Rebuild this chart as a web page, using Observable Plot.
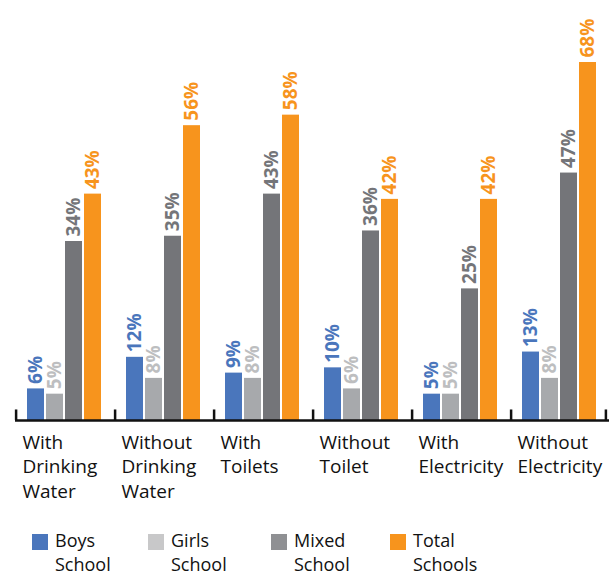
<!DOCTYPE html>
<html>
<head>
<meta charset="utf-8">
<script src="https://cdn.jsdelivr.net/npm/d3@7"></script>
<script src="https://cdn.jsdelivr.net/npm/@observablehq/plot@0.6"></script>
<style>
  body { margin: 0; background: #fff; font-family: "Open Sans", sans-serif; }
  #chart svg { display: block; }
  #legend { display: flex; padding-left: 32px; margin-top: 2px; }
  .item { display: flex; align-items: flex-start; font-size: 18px; line-height: 24px; color: #111; }
  .sw { width: 16px; height: 16px; margin-top: 6px; margin-right: 7px; flex: none; }
</style>
</head>
<body>
<div id="chart"></div>
<div id="legend"></div>
<script>
const groups = ["With Drinking Water", "Without Drinking Water", "With Toilets", "Without Toilet", "With Electricity", "Without Electricity"];
const groupLabels = ["With\nDrinking\nWater", "Without\nDrinking\nWater", "With\nToilets", "Without\nToilet", "With\nElectricity", "Without\nElectricity"];
const series = ["Boys School", "Girls School", "Mixed School", "Total Schools"];
const boys = [6, 12, 9, 10, 5, 13];
const girls = [5, 8, 8, 6, 5, 8];
const mixed = [34, 35, 43, 36, 25, 47];
const total = [43, 56, 58, 42, 42, 68];

const barColors = ["#4A76BC", "#A7A9AC", "#747579", "#F7941D"];
const labelColors = ["#4A76BC", "#BDBEC0", "#747579", "#F7941D"];
const legendColors = ["#4A76BC", "#C8C8C9", "#8F9093", "#F7941D"];
const legendWidths = [116, 123, 119, 120];

const valuesBySeries = [boys, girls, mixed, total];
const data = [];
groups.forEach((g, gi) => {
  series.forEach((s, si) => {
    data.push({group: g, series: s, value: valuesBySeries[si][gi]});
  });
});

const W = 615, H = 526, mL = 13, mR = 5;
const fw = (W - mL - mR) / groups.length;
const pInner = 0.1, pOuter = 0.55;
const step = fw / (series.length - pInner + 2 * pOuter);

const labelMarks = series.map((s, si) =>
  Plot.text(data.filter(d => d.series === s), {
    fx: "group", x: "series", y: "value",
    text: d => d.value + "%",
    rotate: -90, textAnchor: "start", lineAnchor: "middle",
    dy: -5, fill: labelColors[si],
    fontSize: 19, fontWeight: "bold"
  })
);

const chart = Plot.plot({
  width: W, height: H,
  marginLeft: mL, marginRight: mR, marginTop: 62, marginBottom: H - 420,
  style: {fontFamily: "'Open Sans', sans-serif", background: "#fff"},
  fx: {domain: groups, padding: 0, axis: null},
  x: {domain: series, paddingInner: pInner, paddingOuter: pOuter, axis: null},
  y: {domain: [0, 68], axis: null},
  color: {domain: series, range: barColors},
  marks: [
    Plot.barY(data, {fx: "group", x: "series", y: "value", fill: "series"}),
    ...labelMarks,
    Plot.ruleY(groups, {fx: d => d, y: 0, stroke: "#111", strokeWidth: 2.5}),
    Plot.ruleX(groups, {fx: d => d, x: () => series[0], y1: 0, y2: 2, dx: -step, stroke: "#111", strokeWidth: 2.5}),
    Plot.ruleX([groups[groups.length - 1]], {fx: d => d, x: () => series[series.length - 1], y1: 0, y2: 2, dx: step - 2, stroke: "#111", strokeWidth: 2.5}),
    Plot.text(groups, {
      fx: d => d, y: 0, frameAnchor: "left",
      text: (d, i) => groupLabels[i],
      textAnchor: "start", lineAnchor: "top", lineHeight: 1.29,
      dx: 7, dy: 11, fontSize: 19, fill: "#111"
    })
  ]
});
document.getElementById("chart").appendChild(chart);

const legend = document.getElementById("legend");
series.forEach((s, i) => {
  const item = document.createElement("div");
  item.className = "item";
  item.style.width = legendWidths[i] + "px";
  const sw = document.createElement("div");
  sw.className = "sw";
  sw.style.background = legendColors[i];
  const t = document.createElement("div");
  t.innerHTML = s.replace(" ", "<br>");
  item.appendChild(sw);
  item.appendChild(t);
  legend.appendChild(item);
});
</script>
</body>
</html>
